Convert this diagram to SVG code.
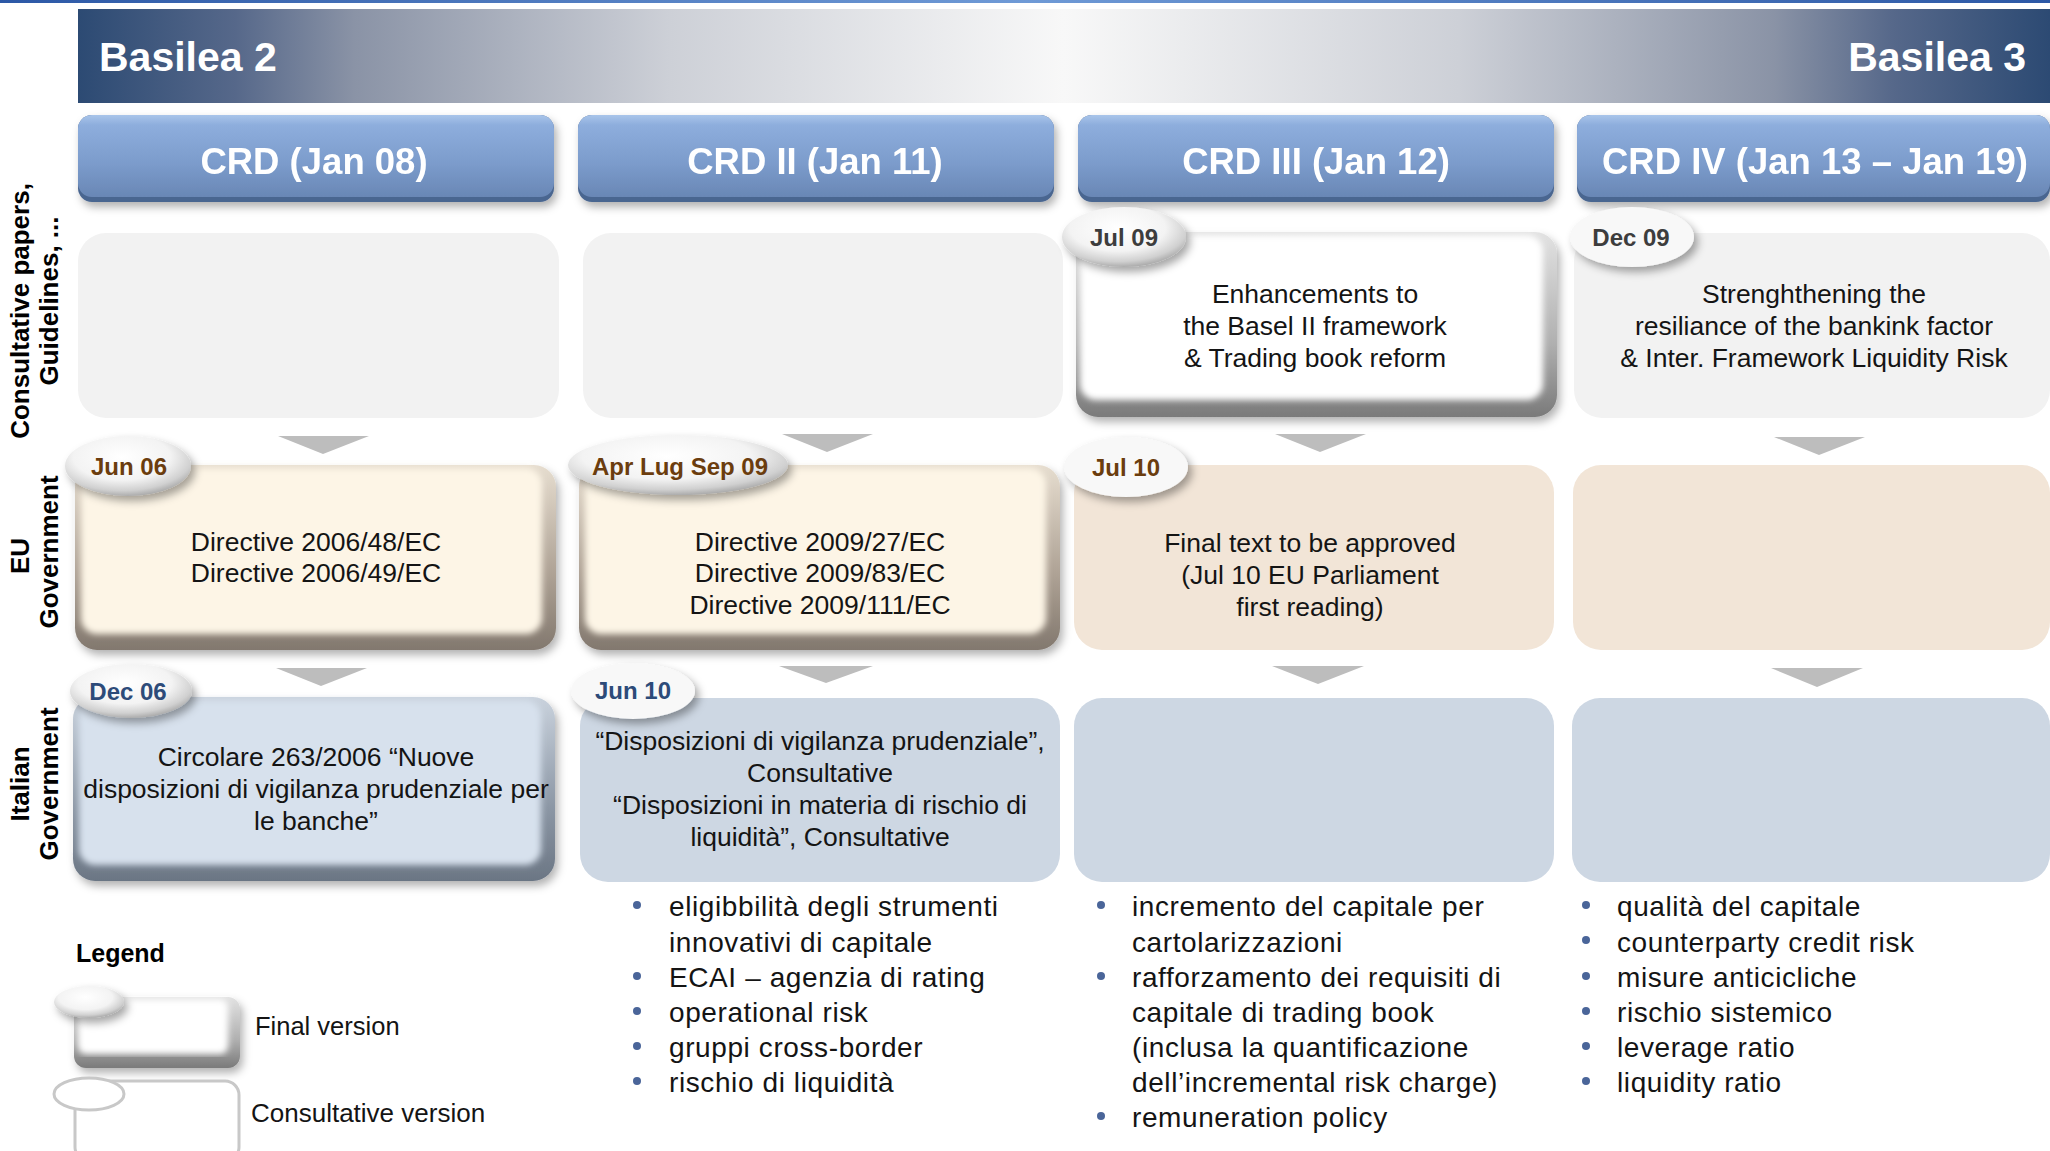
<svg xmlns="http://www.w3.org/2000/svg" width="2050" height="1151" viewBox="0 0 2050 1151">
  <defs>
    <linearGradient id="topRule" x1="0" x2="1" y1="0" y2="0">
      <stop offset="0" stop-color="#2c58a6"/>
      <stop offset="0.5" stop-color="#6f9ad6"/>
      <stop offset="1" stop-color="#2c58a6"/>
    </linearGradient>
    <linearGradient id="band" x1="0" x2="1" y1="0" y2="0">
      <stop offset="0" stop-color="#2c4a73"/>
      <stop offset="0.08" stop-color="#56688a"/>
      <stop offset="0.14" stop-color="#8a93a6"/>
      <stop offset="0.30" stop-color="#cdd0d7"/>
      <stop offset="0.50" stop-color="#f8f8f8"/>
      <stop offset="0.70" stop-color="#cdd0d7"/>
      <stop offset="0.86" stop-color="#8a93a6"/>
      <stop offset="0.92" stop-color="#56688a"/>
      <stop offset="1" stop-color="#2c4a73"/>
    </linearGradient>
    <linearGradient id="crdFace" x1="0" x2="0" y1="0" y2="1">
      <stop offset="0" stop-color="#a9c5ea"/>
      <stop offset="0.12" stop-color="#8eaedd"/>
      <stop offset="0.6" stop-color="#7b9bcb"/>
      <stop offset="1" stop-color="#6987b5"/>
    </linearGradient>
    <linearGradient id="rimGray" x1="0" x2="0" y1="0" y2="1">
      <stop offset="0" stop-color="#e2e2e2"/>
      <stop offset="0.6" stop-color="#b0b0b0"/>
      <stop offset="1" stop-color="#7a7a7a"/>
    </linearGradient>
    <linearGradient id="rimCream" x1="0" x2="0" y1="0" y2="1">
      <stop offset="0" stop-color="#e6ddcf"/>
      <stop offset="0.6" stop-color="#ada194"/>
      <stop offset="1" stop-color="#82786e"/>
    </linearGradient>
    <linearGradient id="rimBlue" x1="0" x2="0" y1="0" y2="1">
      <stop offset="0" stop-color="#c9d2dd"/>
      <stop offset="0.6" stop-color="#8c97a5"/>
      <stop offset="1" stop-color="#6b7684"/>
    </linearGradient>
    <radialGradient id="gloss" cx="0.45" cy="0.35" r="0.7">
      <stop offset="0" stop-color="#ffffff"/>
      <stop offset="0.55" stop-color="#f3f3f3"/>
      <stop offset="0.8" stop-color="#d0d0d0"/>
      <stop offset="1" stop-color="#999999"/>
    </radialGradient>
    <filter id="drop" x="-10%" y="-10%" width="125%" height="135%">
      <feDropShadow dx="3" dy="5" stdDeviation="4" flood-color="#000" flood-opacity="0.3"/>
    </filter>
    <filter id="bubbleShadow" x="-20%" y="-30%" width="150%" height="180%">
      <feDropShadow dx="4" dy="5" stdDeviation="4" flood-color="#000" flood-opacity="0.35"/>
    </filter>
    <filter id="soften" x="-5%" y="-5%" width="110%" height="110%">
      <feGaussianBlur stdDeviation="3"/>
    </filter>
    <style>
      .lbl { font-family: "Liberation Sans", Arial, sans-serif; font-weight: bold; font-size: 26px; fill: #000; }
      .band { font-family: "Liberation Sans", Arial, sans-serif; font-weight: bold; font-size: 41px; fill: #fff; }
      .crd { font-family: "Liberation Sans", Arial, sans-serif; font-weight: bold; font-size: 36.5px; fill: #fff; text-anchor: middle; }
      .body { font-family: "Liberation Sans", Arial, sans-serif; font-size: 26.5px; fill: #141414; text-anchor: middle; }
      .bul { font-family: "Liberation Sans", Arial, sans-serif; font-size: 28px; letter-spacing: 0.6px; fill: #141414; }
      .leg { font-family: "Liberation Sans", Arial, sans-serif; font-size: 25.5px; fill: #141414; }
      .date { font-family: "Liberation Sans", Arial, sans-serif; font-weight: bold; font-size: 24px; text-anchor: middle; }
      .d1 { fill: #3d3d3d; }
      .d2 { fill: #6b3d0e; }
      .d3 { fill: #2d4b79; }
      .dot { fill: #4a6599; }
      .tri { fill: #bdbdbd; }
      .cGray { fill: #f2f2f2; }
      .cCream { fill: #f2e5d7; }
      .cBlue { fill: #cdd7e3; }
      .cBubble { fill: #f8f8f8; }
    </style>
  </defs>

  <rect width="2050" height="1151" fill="#ffffff"/>
  <rect x="0" y="0" width="2050" height="3" fill="url(#topRule)"/>

  <!-- era band -->
  <g id="era-band">
    <rect x="78" y="9" width="1972" height="94" fill="url(#band)"/>
    <text class="band" x="99" y="71">Basilea 2</text>
    <text class="band" x="2026" y="71" text-anchor="end">Basilea 3</text>
  </g>

  <!-- row labels -->
  <g id="row-labels">
    <text class="lbl" transform="translate(29,311) rotate(-90)" text-anchor="middle">Consultative papers,</text>
    <text class="lbl" transform="translate(58,301) rotate(-90)" text-anchor="middle">Guidelines, ...</text>
    <text class="lbl" transform="translate(29,556) rotate(-90)" text-anchor="middle">EU</text>
    <text class="lbl" transform="translate(58,552) rotate(-90)" text-anchor="middle">Government</text>
    <text class="lbl" transform="translate(29,784) rotate(-90)" text-anchor="middle">Italian</text>
    <text class="lbl" transform="translate(58,784) rotate(-90)" text-anchor="middle">Government</text>
  </g>

  <!-- directive headers -->
  <g id="crd-1" filter="url(#drop)">
    <rect x="78" y="115" width="476" height="87" rx="14" fill="#4a6690"/>
    <rect x="78" y="115" width="476" height="82" rx="14" fill="url(#crdFace)"/>
    <text class="crd" x="314" y="174">CRD (Jan 08)</text>
  </g>
  <g id="crd-2" filter="url(#drop)">
    <rect x="578" y="115" width="476" height="87" rx="14" fill="#4a6690"/>
    <rect x="578" y="115" width="476" height="82" rx="14" fill="url(#crdFace)"/>
    <text class="crd" x="815" y="174">CRD II (Jan 11)</text>
  </g>
  <g id="crd-3" filter="url(#drop)">
    <rect x="1078" y="115" width="476" height="87" rx="14" fill="#4a6690"/>
    <rect x="1078" y="115" width="476" height="82" rx="14" fill="url(#crdFace)"/>
    <text class="crd" x="1316" y="174">CRD III (Jan 12)</text>
  </g>
  <g id="crd-4" filter="url(#drop)">
    <rect x="1577" y="115" width="473" height="87" rx="14" fill="#4a6690"/>
    <rect x="1577" y="115" width="473" height="82" rx="14" fill="url(#crdFace)"/>
    <text class="crd" x="1815" y="174">CRD IV (Jan 13 – Jan 19)</text>
  </g>

  <!-- connectors: downward chevrons between rows -->
  <g id="connectors">
    <polygon class="tri" points="278,436 369,436 323,454"/>
    <polygon class="tri" points="782,434 873,434 827,452"/>
    <polygon class="tri" points="1275,434 1366,434 1320,452"/>
    <polygon class="tri" points="1774,437 1865,437 1819,455"/>
    <polygon class="tri" points="276,668 367,668 321,686"/>
    <polygon class="tri" points="779,666 873,666 826,683"/>
    <polygon class="tri" points="1272,666 1364,666 1318,684"/>
    <polygon class="tri" points="1771,668 1863,668 1817,687"/>
  </g>

  <!-- consultative papers row -->
  <g id="cp-1">
    <rect class="cGray" x="78" y="233" width="481" height="185" rx="28"/>
  </g>
  <g id="cp-2">
    <rect class="cGray" x="583" y="233" width="480" height="185" rx="28"/>
  </g>
  <g id="cp-3">
    <g filter="url(#drop)">
      <rect x="1076" y="232" width="481" height="185" rx="22" fill="url(#rimGray)"/>
      <rect x="1080" y="235" width="463" height="165" rx="16" fill="#ffffff" filter="url(#soften)"/>
    </g>
    <text class="body" x="1315" y="303">Enhancements to</text>
    <text class="body" x="1315" y="335">the Basel II framework</text>
    <text class="body" x="1315" y="367">&amp; Trading book reform</text>
    <ellipse cx="1124" cy="237" rx="62" ry="30" fill="url(#gloss)" filter="url(#bubbleShadow)"/>
    <text class="date d1" x="1124" y="246">Jul 09</text>
  </g>
  <g id="cp-4">
    <rect class="cGray" x="1574" y="233" width="476" height="185" rx="28"/>
    <text class="body" x="1814" y="303">Strenghthening the</text>
    <text class="body" x="1814" y="335">resiliance of the bankink factor</text>
    <text class="body" x="1814" y="367">&amp; Inter. Framework Liquidity Risk</text>
    <ellipse class="cBubble" cx="1632" cy="237" rx="62" ry="30" filter="url(#bubbleShadow)"/>
    <text class="date d1" x="1631" y="246">Dec 09</text>
  </g>

  <!-- EU government row -->
  <g id="eu-1">
    <g filter="url(#drop)">
      <rect x="75" y="465" width="481" height="185" rx="22" fill="url(#rimCream)"/>
      <rect x="81" y="468" width="461" height="166" rx="16" fill="#fdf5e6" filter="url(#soften)"/>
    </g>
    <text class="body" x="316" y="551">Directive 2006/48/EC</text>
    <text class="body" x="316" y="582">Directive 2006/49/EC</text>
    <ellipse cx="128" cy="466" rx="63" ry="30" fill="url(#gloss)" filter="url(#bubbleShadow)"/>
    <text class="date d2" x="129" y="475">Jun 06</text>
  </g>
  <g id="eu-2">
    <g filter="url(#drop)">
      <rect x="579" y="465" width="481" height="185" rx="22" fill="url(#rimCream)"/>
      <rect x="585" y="468" width="461" height="166" rx="16" fill="#fdf5e6" filter="url(#soften)"/>
    </g>
    <text class="body" x="820" y="551">Directive 2009/27/EC</text>
    <text class="body" x="820" y="582">Directive 2009/83/EC</text>
    <text class="body" x="820" y="614">Directive 2009/111/EC</text>
    <ellipse cx="678" cy="465" rx="110" ry="30" fill="url(#gloss)" filter="url(#bubbleShadow)"/>
    <text class="date d2" x="680" y="475">Apr Lug Sep 09</text>
  </g>
  <g id="eu-3">
    <rect class="cCream" x="1074" y="465" width="480" height="185" rx="28"/>
    <text class="body" x="1310" y="552">Final text to be approved</text>
    <text class="body" x="1310" y="584">(Jul 10 EU Parliament</text>
    <text class="body" x="1310" y="616">first reading)</text>
    <ellipse class="cBubble" cx="1126" cy="467" rx="62" ry="30" filter="url(#bubbleShadow)"/>
    <text class="date d2" x="1126" y="476">Jul 10</text>
  </g>
  <g id="eu-4">
    <rect class="cCream" x="1573" y="465" width="477" height="185" rx="28"/>
  </g>

  <!-- Italian government row -->
  <g id="it-1">
    <g filter="url(#drop)">
      <rect x="73" y="697" width="482" height="184" rx="22" fill="url(#rimBlue)"/>
      <rect x="79" y="700" width="462" height="165" rx="16" fill="#d7e1ed" filter="url(#soften)"/>
    </g>
    <text class="body" x="316" y="766">Circolare 263/2006 “Nuove</text>
    <text class="body" x="316" y="798">disposizioni di vigilanza prudenziale per</text>
    <text class="body" x="316" y="830">le banche”</text>
    <ellipse cx="131" cy="691" rx="61" ry="27" fill="url(#gloss)" filter="url(#bubbleShadow)"/>
    <text class="date d3" x="128" y="700">Dec 06</text>
  </g>
  <g id="it-2">
    <rect class="cBlue" x="580" y="698" width="480" height="184" rx="28"/>
    <text class="body" x="820" y="750">“Disposizioni di vigilanza prudenziale”,</text>
    <text class="body" x="820" y="782">Consultative</text>
    <text class="body" x="820" y="814">“Disposizioni in materia di rischio di</text>
    <text class="body" x="820" y="846">liquidità”, Consultative</text>
    <ellipse class="cBubble" cx="633" cy="691" rx="62" ry="28" filter="url(#bubbleShadow)"/>
    <text class="date d3" x="633" y="699">Jun 10</text>
  </g>
  <g id="it-3">
    <rect class="cBlue" x="1074" y="698" width="480" height="184" rx="28"/>
  </g>
  <g id="it-4">
    <rect class="cBlue" x="1572" y="698" width="478" height="184" rx="28"/>
  </g>

  <!-- content notes under each directive -->
  <g id="notes-crd2">
    <circle class="dot" cx="637" cy="905" r="4"/>
    <circle class="dot" cx="637" cy="976" r="4"/>
    <circle class="dot" cx="637" cy="1011" r="4"/>
    <circle class="dot" cx="637" cy="1046" r="4"/>
    <circle class="dot" cx="637" cy="1081" r="4"/>
    <text class="bul" x="669" y="916">eligibbilità degli strumenti</text>
    <text class="bul" x="669" y="952">innovativi di capitale</text>
    <text class="bul" x="669" y="987">ECAI – agenzia di rating</text>
    <text class="bul" x="669" y="1022">operational risk</text>
    <text class="bul" x="669" y="1057">gruppi cross-border</text>
    <text class="bul" x="669" y="1092">rischio di liquidità</text>
  </g>
  <g id="notes-crd3">
    <circle class="dot" cx="1101" cy="905" r="4"/>
    <circle class="dot" cx="1101" cy="976" r="4"/>
    <circle class="dot" cx="1101" cy="1116" r="4"/>
    <text class="bul" x="1132" y="916">incremento del capitale per</text>
    <text class="bul" x="1132" y="952">cartolarizzazioni</text>
    <text class="bul" x="1132" y="987">rafforzamento dei requisiti di</text>
    <text class="bul" x="1132" y="1022">capitale di trading book</text>
    <text class="bul" x="1132" y="1057">(inclusa la quantificazione</text>
    <text class="bul" x="1132" y="1092">dell’incremental risk charge)</text>
    <text class="bul" x="1132" y="1127">remuneration policy</text>
  </g>
  <g id="notes-crd4">
    <circle class="dot" cx="1586" cy="905" r="4"/>
    <circle class="dot" cx="1586" cy="940" r="4"/>
    <circle class="dot" cx="1586" cy="976" r="4"/>
    <circle class="dot" cx="1586" cy="1011" r="4"/>
    <circle class="dot" cx="1586" cy="1046" r="4"/>
    <circle class="dot" cx="1586" cy="1081" r="4"/>
    <text class="bul" x="1617" y="916">qualità del capitale</text>
    <text class="bul" x="1617" y="952">counterparty credit risk</text>
    <text class="bul" x="1617" y="987">misure anticicliche</text>
    <text class="bul" x="1617" y="1022">rischio sistemico</text>
    <text class="bul" x="1617" y="1057">leverage ratio</text>
    <text class="bul" x="1617" y="1092">liquidity ratio</text>
  </g>

  <!-- legend -->
  <g id="legend">
    <text class="lbl" x="76" y="962" style="font-size:25px">Legend</text>
    <g id="legend-final">
      <g filter="url(#drop)">
        <rect x="74" y="997" width="166" height="71" rx="12" fill="url(#rimGray)"/>
        <rect x="78" y="999" width="150" height="55" rx="8" fill="#ffffff" filter="url(#soften)"/>
      </g>
      <ellipse cx="89" cy="1002" rx="35" ry="16" fill="url(#gloss)" filter="url(#bubbleShadow)"/>
      <text class="leg" x="255" y="1035">Final version</text>
    </g>
    <g id="legend-consultative">
      <rect x="75" y="1081" width="164" height="80" rx="14" fill="#ffffff" stroke="#c8c8c8" stroke-width="3"/>
      <ellipse cx="89" cy="1094" rx="35" ry="16" fill="#ffffff" stroke="#c8c8c8" stroke-width="3"/>
      <text class="leg" x="251" y="1122" style="font-size:26px">Consultative version</text>
    </g>
  </g>
</svg>
